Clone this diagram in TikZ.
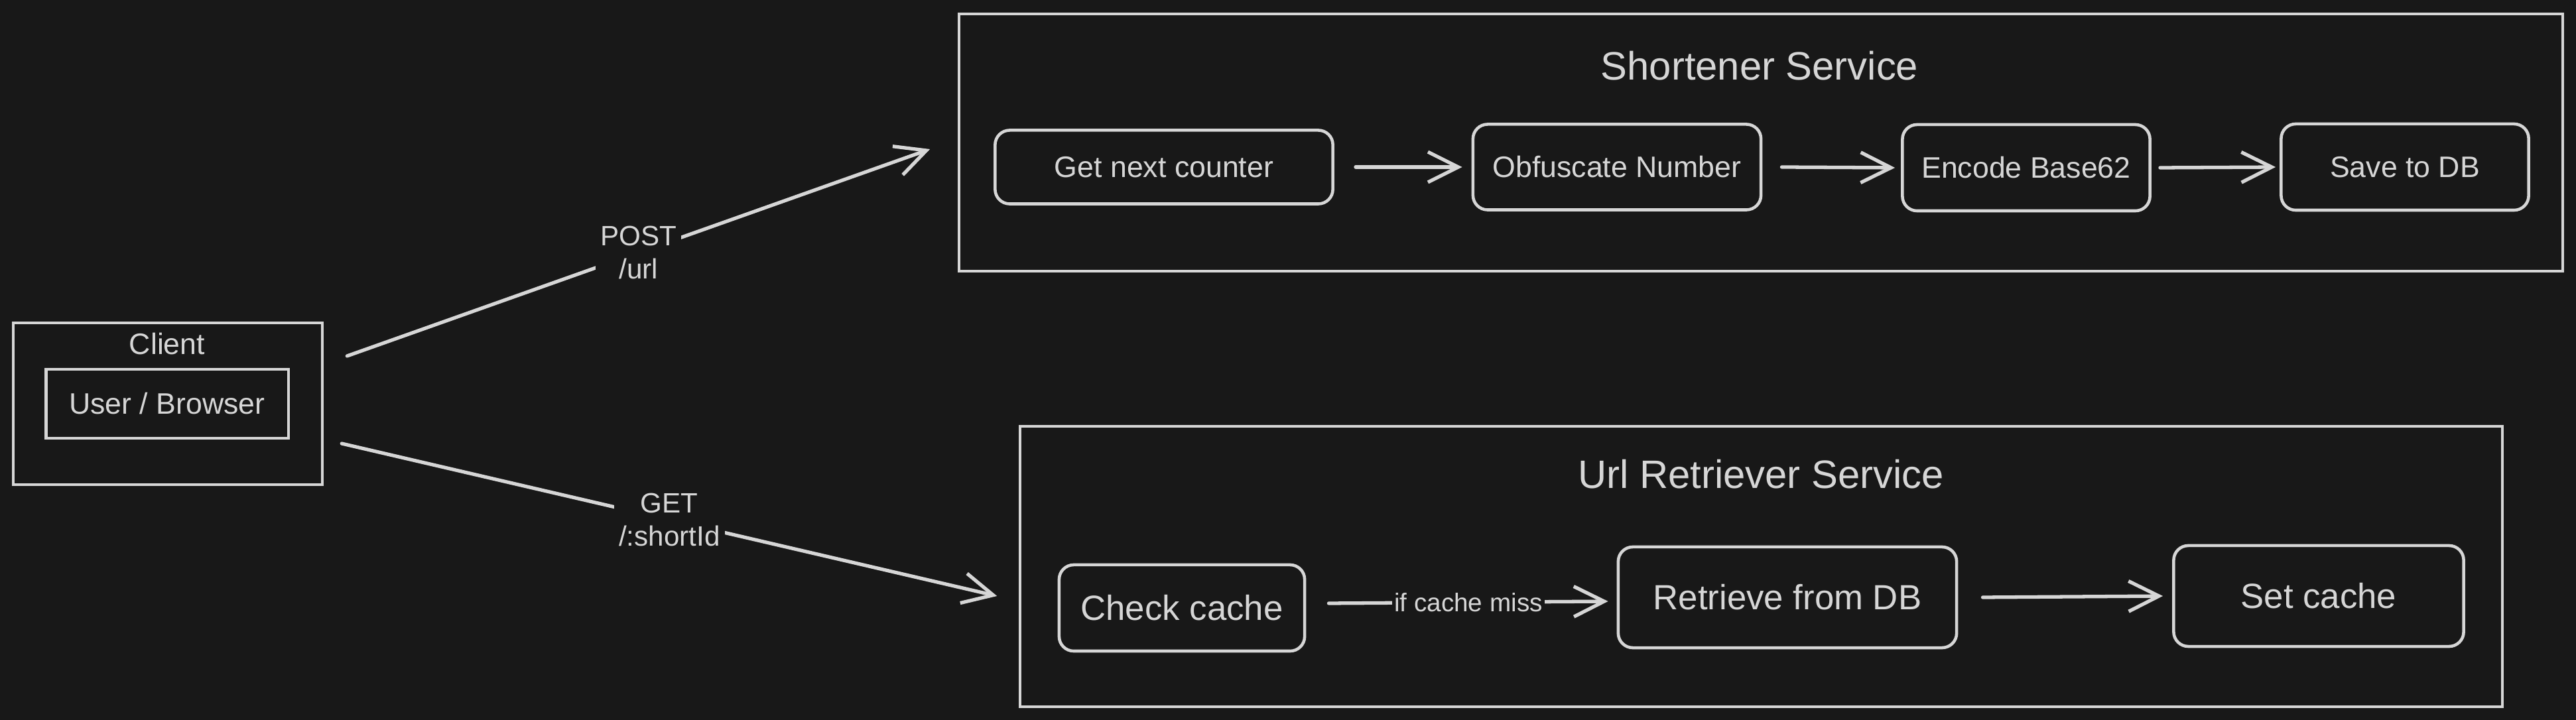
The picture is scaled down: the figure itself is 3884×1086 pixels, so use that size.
\documentclass[tikz,border=0pt]{standalone}
\usepackage{fontspec}
\setmainfont{Liberation Sans}
\usetikzlibrary{arrows.meta}
\definecolor{bgc}{HTML}{181818}
\definecolor{ink}{HTML}{D6D6D6}
\begin{document}
\begin{tikzpicture}[x=0.01cm,y=-0.01cm,
  every node/.style={text=ink},
  frame/.style={draw=ink, line width=1.2pt, rectangle, inner sep=0pt},
  stepbox/.style={draw=ink, line width=1.3pt, rounded corners=0.22cm, inner sep=0pt, align=center},
  arr/.style={draw=ink, line width=1.5pt, line cap=round, -{Straight Barb[length=13pt,width=13pt]}},
  lbl/.style={fill=bgc, align=center, inner sep=2pt, font=\fontsize{12}{14}\selectfont},
  stxt/.style={font=\fontsize{12.7}{15}\selectfont},
  rtxt/.style={font=\fontsize{15}{18}\selectfont},
  ttl/.style={font=\fontsize{17}{20}\selectfont, anchor=base},
]
\fill[bgc] (0,0) rectangle (3884,1086);
\useasboundingbox (0,0) rectangle (3884,1086);

% Client
\node[frame, minimum width=4.66cm, minimum height=2.44cm] (client) at (253,609) {};
\node[stxt, anchor=base] (clientlbl) at (252,535) {Client};
\node[frame, stxt, minimum width=3.65cm, minimum height=1.04cm] (browser) at (252,609) {User / Browser};

% Shortener service
\node[frame, minimum width=24.16cm, minimum height=3.88cm] (shortener) at (2655,215) {};
\node[ttl] (shtitle) at (2653,121) {Shortener Service};
\node[stepbox, stxt, minimum width=5.09cm, minimum height=1.11cm] (counter) at (1755,252) {Get next counter};
\node[stepbox, stxt, minimum width=4.34cm, minimum height=1.29cm] (obf) at (2438,252) {Obfuscate Number};
\node[stepbox, stxt, minimum width=3.73cm, minimum height=1.30cm] (enc) at (3055,253) {Encode Base62};
\node[stepbox, stxt, minimum width=3.73cm, minimum height=1.30cm] (save) at (3626,252) {Save to DB};
\draw[arr] ([xshift=0.32cm]counter.east) -- ([xshift=-0.14cm]obf.west);
\draw[arr] ([xshift=0.29cm]obf.east) -- ([xshift=-0.09cm]enc.west);
\draw[arr] ([xshift=0.13cm]enc.east) -- ([xshift=-0.06cm]save.west);

% Url retriever service
\node[frame, minimum width=22.33cm, minimum height=4.23cm] (retriever) at (2655.5,854.5) {};
\node[ttl] (rttitle) at (2655,737) {Url Retriever Service};
\node[stepbox, rtxt, minimum width=3.70cm, minimum height=1.30cm] (check) at (1782,917) {Check cache};
\node[stepbox, rtxt, minimum width=5.10cm, minimum height=1.52cm] (retr) at (2695,901) {Retrieve from DB};
\node[stepbox, rtxt, minimum width=4.37cm, minimum height=1.52cm] (setc) at (3496,899) {Set cache};
\draw[arr] ([xshift=0.34cm,yshift=0.07cm]check.east) -- node[lbl, inner sep=1pt, font=\fontsize{11}{13}\selectfont] (miss) {if cache miss} ([xshift=-0.13cm,yshift=-0.06cm]retr.west);
\draw[arr] ([xshift=0.37cm]retr.east) -- ([xshift=-0.14cm]setc.west);

% Client requests
\draw[arr] ([shift={(35,-72)}]client.east) -- node[lbl] (post) {POST\\/url} ([shift={(-42,10)}]shortener.west);
\draw[arr] ([shift={(27,60)}]client.east) -- node[lbl] (get) {GET\\/:shortId} ([shift={(-33,44.5)}]retriever.west);
\end{tikzpicture}
\end{document}
